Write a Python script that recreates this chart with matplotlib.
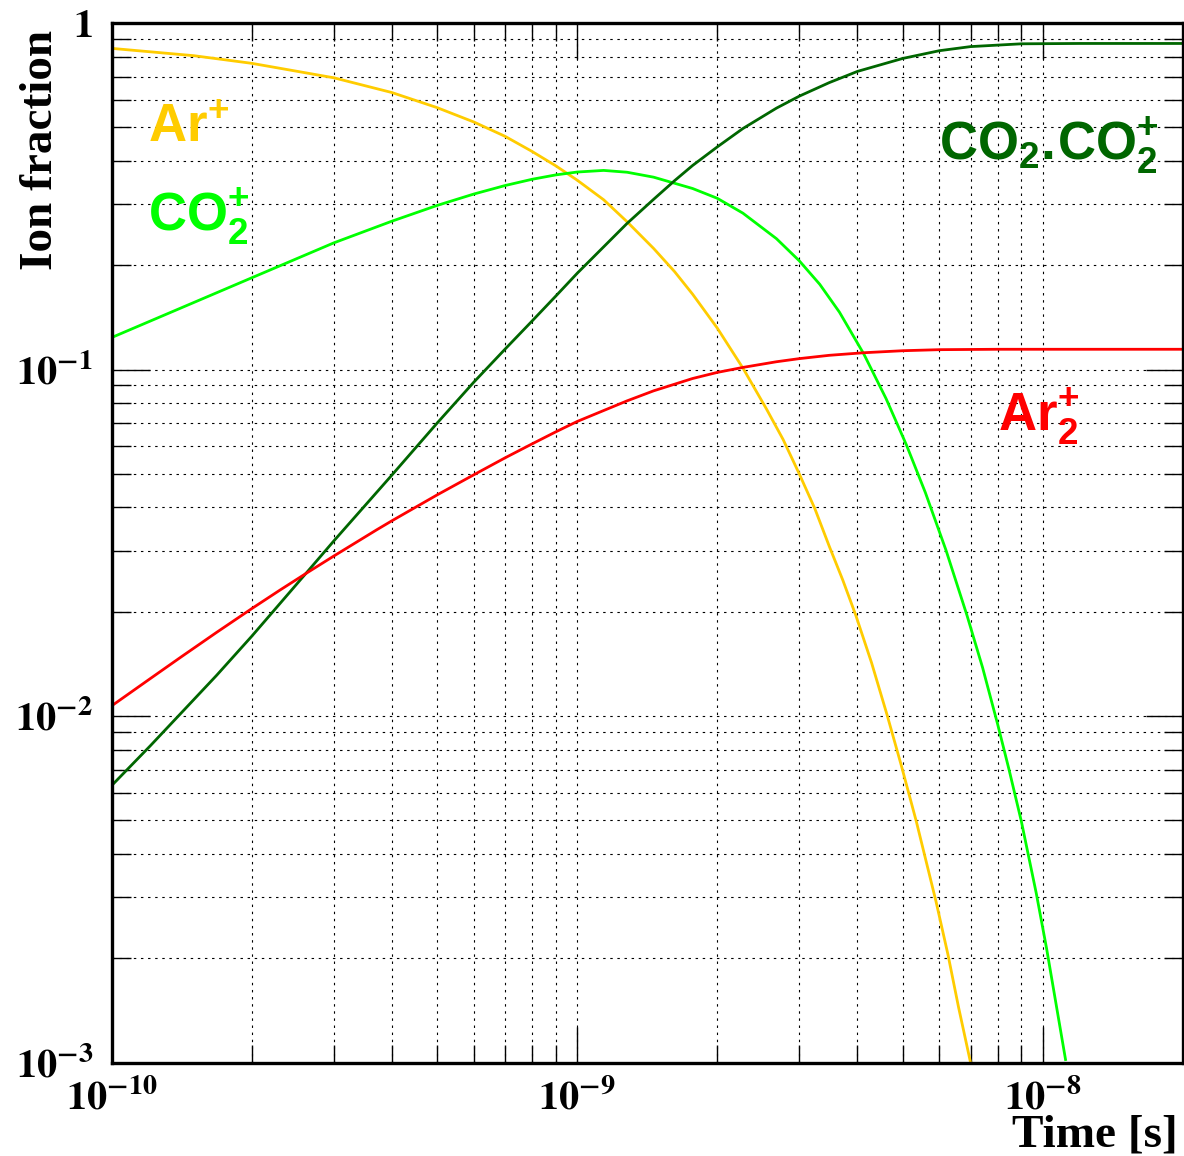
import numpy as np
import matplotlib
matplotlib.use("Agg")
import matplotlib.pyplot as plt
from matplotlib.ticker import LogLocator, FuncFormatter, NullFormatter

# values (time in s, ion fraction)
t_ar = [1e-10, 1.5e-10, 2e-10, 3e-10, 4e-10, 5e-10, 6e-10, 7e-10, 8e-10, 9e-10,
        1e-9, 1.14e-9, 1.28e-9, 1.46e-9, 1.62e-9, 1.77e-9, 2.0e-9, 2.27e-9,
        2.55e-9, 2.77e-9, 3.0e-9, 3.24e-9, 3.48e-9, 3.72e-9, 3.97e-9, 4.29e-9,
        4.63e-9, 4.97e-9, 5.35e-9, 5.9e-9, 6.26e-9, 6.6e-9, 7.0e-9]
ar = [0.845, 0.805, 0.765, 0.695, 0.630, 0.570, 0.518, 0.471, 0.426, 0.387,
      0.352, 0.309, 0.267, 0.2235, 0.1915, 0.165, 0.1317, 0.101,
      0.077, 0.0628, 0.050, 0.0397, 0.0309, 0.0247, 0.0195, 0.01425,
      0.0101, 0.0072, 0.00498, 0.00292, 0.00205, 0.00144, 0.001]

t_co2 = [1e-10, 2e-10, 3e-10, 4e-10, 5e-10, 6e-10, 7e-10, 8e-10, 9e-10, 1e-9,
         1.14e-9, 1.28e-9, 1.46e-9, 1.77e-9, 2.0e-9, 2.27e-9, 2.68e-9, 3.0e-9,
         3.32e-9, 3.66e-9, 4.13e-9, 4.61e-9, 5.1e-9, 5.6e-9, 6.2e-9, 6.88e-9,
         7.43e-9, 8.0e-9, 8.47e-9, 9.0e-9, 9.69e-9, 1.02e-8, 1.12e-8]
co2 = [0.1237, 0.184, 0.232, 0.268, 0.2975, 0.321, 0.3396, 0.354, 0.3645, 0.3715,
       0.3755, 0.371, 0.359, 0.333, 0.312, 0.2827, 0.2386, 0.206,
       0.1762, 0.1464, 0.1108, 0.0824, 0.0605, 0.0441, 0.0301, 0.0195,
       0.0138, 0.0095, 0.0070, 0.00497, 0.00308, 0.00213, 0.00102]

t_dim = [1e-10, 1.21e-10, 1.41e-10, 1.68e-10, 2e-10, 2.22e-10, 2.64e-10, 3e-10,
         4e-10, 5e-10, 6e-10, 7e-10, 8e-10, 9e-10, 1e-9, 1.28e-9, 1.46e-9,
         1.62e-9, 1.77e-9, 2e-9, 2.27e-9, 2.68e-9, 3e-9, 3.48e-9, 4e-9, 5e-9,
         6e-9, 7e-9, 9e-9, 1.2e-8, 2e-8]
dim = [0.0063, 0.0082, 0.0102, 0.0131, 0.0170, 0.0200, 0.0262, 0.0320,
       0.0496, 0.0700, 0.0920, 0.1145, 0.1380, 0.1630, 0.1895, 0.264, 0.310,
       0.351, 0.388, 0.439, 0.496, 0.568, 0.615, 0.673, 0.725, 0.790,
       0.832, 0.855, 0.871, 0.873, 0.873]

t_ar2 = [1e-10, 1.21e-10, 1.41e-10, 1.68e-10, 2e-10, 2.3e-10, 2.64e-10, 3e-10,
         3.71e-10, 4e-10, 5e-10, 6e-10, 7e-10, 8e-10, 9e-10, 1e-9, 1.28e-9,
         1.46e-9, 1.77e-9, 2e-9, 2.27e-9, 2.68e-9, 3e-9, 3.48e-9, 4.13e-9,
         5e-9, 6e-9, 8e-9, 1.2e-8, 2e-8]
ar2 = [0.0107, 0.01282, 0.01481, 0.01743, 0.02042, 0.0231, 0.0260, 0.02895,
       0.03447, 0.0366, 0.04345, 0.0497, 0.0556, 0.0610, 0.0661, 0.0708, 0.0812,
       0.0868, 0.0942, 0.0981, 0.1014, 0.1053, 0.1075, 0.1099, 0.1118,
       0.1133, 0.1141, 0.1144, 0.1144, 0.1144]

XLIM = (1e-10, 2e-8)
YLIM = (1e-3, 1)

plt.rcParams["font.family"] = ["Liberation Serif", "DejaVu Serif"]
plt.rcParams["font.weight"] = "bold"
plt.rcParams["mathtext.fontset"] = "stix"
plt.rcParams["mathtext.rm"] = "Liberation Sans"
plt.rcParams["mathtext.bf"] = "Liberation Sans:bold"

fig = plt.figure(figsize=(11.84, 11.56), dpi=100)
ax = fig.add_axes([0.09434, 0.08088, 0.9046, 0.8992])

ax.plot(t_ar, ar, color="#FFCC00", lw=2.0)
ax.plot(t_co2, co2, color="#00FF00", lw=2.0)
ax.plot(t_dim, dim, color="#006600", lw=2.0)
ax.plot(t_ar2, ar2, color="#FF0000", lw=2.0)

ax.set_xscale("log"); ax.set_yscale("log")
ax.set_xlim(*XLIM); ax.set_ylim(*YLIM)

def make_fmt(lo, hi):
    def fmt(v, pos):
        if v < lo * 0.999 or v > hi * 1.001:
            return ""
        e = int(round(np.log10(v)))
        if e == 0:
            return r"$\mathbf{1}$"
        return r"$\mathbf{10}^{\mathbf{%d}}$" % e
    return fmt

for a, lim in ((ax.xaxis, XLIM), (ax.yaxis, YLIM)):
    a.set_major_locator(LogLocator(base=10, numticks=20))
    a.set_minor_locator(LogLocator(base=10, subs=np.arange(2, 10), numticks=50))
    a.set_major_formatter(FuncFormatter(make_fmt(*lim)))
    a.set_minor_formatter(NullFormatter())

ax.tick_params(which="both", direction="in", top=True, right=True, width=1.0, labelsize=29)
ax.tick_params(axis="x", which="major", length=26, pad=12.6)
ax.tick_params(axis="x", which="minor", length=13)
ax.tick_params(axis="y", which="major", length=27, pad=13.5)
ax.tick_params(axis="y", which="minor", length=14)
ax.grid(True, which="both", color="black", lw=0.8, linestyle=(0, (2.2, 4.2)))
ax.set_axisbelow(True)
for s in ax.spines.values():
    s.set_linewidth(2.4)

# curve labels
lab = dict(transform=ax.transAxes, fontsize=38, ha="left", va="baseline",
           math_fontfamily="custom")
ax.text(0.0339, 0.8855, r"$\mathbf{Ar}^{\mathbf{+}}$", color="#FFCC00", **lab)
ax.text(0.0339, 0.7999, r"$\mathbf{CO}_{\mathbf{2}}^{\mathbf{+}}$", color="#00FF00", **lab)
ax.text(0.7725, 0.8682,
        r"$\mathbf{CO}_{\mathbf{2}}\mathbf{.}\!\mathbf{CO}_{\mathbf{2}}^{\mathbf{+}}$",
        color="#006600", **lab)
ax.text(0.8275, 0.6075, r"$\mathbf{Ar}_{\mathbf{2}}^{\mathbf{+}}$", color="#FF0000", **lab)

fig.text(0.0524, 0.974, "Ion fraction", rotation=90, ha="right", va="top",
         fontsize=34, fontweight="bold")
fig.text(0.9949, 0.0078, "Time [s]", ha="right", va="baseline",
         fontsize=34, fontweight="bold")

fig.savefig("out.png", dpi=100, facecolor="white")
